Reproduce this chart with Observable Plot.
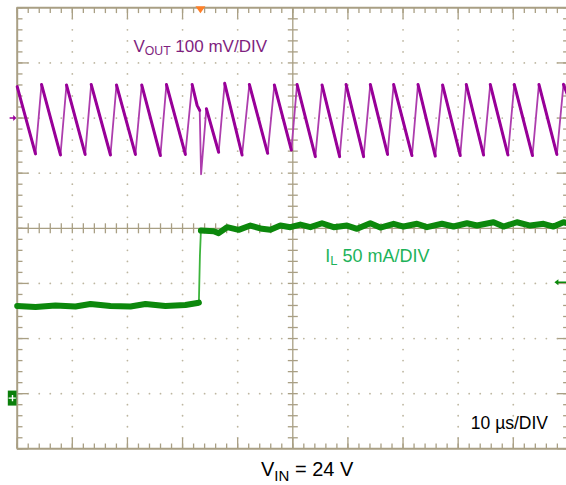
<!DOCTYPE html>
<html>
<head>
<meta charset="utf-8">
<script src="https://cdn.jsdelivr.net/npm/d3@7"></script>
<script src="https://cdn.jsdelivr.net/npm/@observablehq/plot@0.6"></script>
<style>
  body { margin: 0; background: #fff; }
  #wrap { position: relative; width: 566px; height: 485px; overflow: hidden; font-family: "Liberation Sans", Arial, Helvetica, sans-serif; }
  #chart svg { display: block; }
  #cap { position: absolute; left: 261px; top: 459px; font-size: 20px; line-height: 20px; color: #000; white-space: nowrap; }
  #cap .sub { font-size: 15px; position: relative; top: 5px; }
</style>
</head>
<body>
<div id="wrap">
  <div id="chart"></div>
  <div id="cap">V<span class="sub">IN</span> = 24 V</div>
</div>
<script>
// ---- data read from the scope capture ----
// time in µs (10 µs/DIV, 10 divisions)
const voutTime = [0, 3.32, 4.41, 7.85, 8.94, 12.33, 13.42, 16.92, 18.01, 21.45,
  22.59, 25.98, 27.07, 30.51, 31.73, 32.64, 33.11, 33.36, 34.32, 36.55,
  37.64, 40.80, 42.12, 45.44, 46.65, 49.74, 50.77, 54.09, 55.30, 58.50,
  59.66, 62.85, 64.06, 67.20, 68.29, 71.62, 72.71, 75.85, 77.17, 80.38,
  81.47, 84.61, 85.82, 89.03, 90.18, 93.49, 94.65, 97.91, 99.11, 100];
// VOUT ripple in mV (AC, relative to channel 1 reference)
const voutMv = [57, -65, 61, -67, 60, -66, 61, -67, 60, -66,
  60, -68, 61, -66, 61, 23, 14, -102, 17, -62,
  63, -67, 61, -64, 60, -58, 61, -70, 60, -70,
  61, -70, 61, -66, 61, -68, 61, -69, 60, -68,
  61, -67, 61, -67, 61, -68, 61, -66, 61, 38];

const ilTime = [0, 3.32, 6.94, 10.57, 13.29, 16.92, 20.55, 23.27, 26.89, 30.51,
  32.69, 32.96, 33.15, 33.33, 35.65, 36.55, 38.08, 40.18, 42.30, 44.42,
  45.93, 47.74, 49.56, 51.37, 53.18, 55.30, 57.41, 59.84, 61.65, 64.06,
  65.88, 68.29, 70.10, 72.53, 74.34, 77.06, 79.17, 81.60, 83.41, 86.42,
  88.23, 90.66, 93.07, 95.49, 97.30, 99.11, 100];
// inductor current in mA
const ilMa = [83.5, 82.6, 84.0, 83.1, 85.3, 83.5, 83.1, 85.3, 83.5, 84.4,
  86.2, 86.6, 129.3, 152.0, 151.4, 149.6, 155.0, 152.6, 156.5, 153.5,
  152.6, 156.5, 155.0, 157.4, 155.0, 158.6, 155.0, 156.5, 153.5, 158.6,
  154.7, 158.1, 155.6, 158.1, 155.0, 158.1, 155.6, 158.6, 156.5, 159.5,
  155.6, 159.5, 156.5, 158.1, 155.6, 159.5, 158.3];

// scope settings
const timePerDiv = 10;     // µs/DIV
const voutPerDiv = 100;    // mV/DIV
const ilPerDiv = 50;       // mA/DIV
const ch1Offset = 2;       // divisions
const ch2Offset = -3.08;   // divisions
const triggerTime = 33.24; // µs
const triggerLevel = 105;  // mA (channel 2)
const labelText = ["V_{OUT} 100 mV/DIV", "I_{L} 50 mA/DIV", "10 µs/DIV"];

// ---- derived ----
const tMax = timePerDiv * 10;
const xMinor = d3.range(0, tMax + 1e-9, timePerDiv / 5);
const xMajor = d3.range(0, tMax + 1e-9, timePerDiv);
const yMinor = d3.range(-20, 21).map(i => i / 5);
const yMajor = d3.range(-4, 5);
const isMajorX = x => Math.abs(x / timePerDiv - Math.round(x / timePerDiv)) < 1e-6;

const gridDots = [];
for (const x of xMajor) if (x > 0 && x < tMax && x !== tMax / 2)
  for (const y of yMinor) if (y > -4 && y < 4 && Math.abs(y) > 1e-6) gridDots.push({x, y});
for (const y of yMajor) if (y > -4 && y < 4 && y !== 0)
  for (const x of xMinor) if (x > 0 && x < tMax && !isMajorX(x)) gridDots.push({x, y});

function runs(ts, vs, ok) {
  const rows = []; let run = 0, open = false;
  for (let i = 0; i < ts.length - 1; i++) {
    const s = (vs[i + 1] - vs[i]) / (ts[i + 1] - ts[i]);
    if (ok(s)) {
      if (!open) { rows.push({t: ts[i], v: vs[i], run}); open = true; }
      rows.push({t: ts[i + 1], v: vs[i + 1], run});
    } else if (open) { open = false; run++; }
  }
  return rows;
}
const vout = voutTime.map((t, i) => ({t, v: voutMv[i]}));
const voutFall = runs(voutTime, voutMv, s => s < 0 && -s < 80);
const il = ilTime.map((t, i) => ({t, v: ilMa[i]}));
const ilSlow = runs(ilTime, ilMa, s => Math.abs(s) < 30);
const vY = d => ch1Offset + d.v / voutPerDiv;
const iY = d => ch2Offset + d.v / ilPerDiv;

// ---- symbols ----
const sym = f => ({draw: f});
const vTick = (a, b) => sym(c => { c.moveTo(0, a); c.lineTo(0, b); });
const hTick = (a, b) => sym(c => { c.moveTo(a, 0); c.lineTo(b, 0); });
const ch1Arrow = sym(c => {
  c.moveTo(-7.6, -0.8); c.lineTo(-4, -0.8); c.lineTo(-4, -3); c.lineTo(-0.8, 0);
  c.lineTo(-4, 3); c.lineTo(-4, 0.8); c.lineTo(-7.6, 0.8); c.closePath();
});
const ch2Box = sym(c => { c.rect(-9.4, -7.5, 8.7, 15); });
const ch2Mark = sym(c => { c.rect(-8.6, -0.7, 7.2, 1.4); c.rect(-5.4, -3.2, 1.4, 6.4); });
const trigArrow = sym(c => {
  c.moveTo(-14, 0); c.lineTo(-10, -3); c.lineTo(-10, -0.8); c.lineTo(-1, -0.8);
  c.lineTo(-1, 0.8); c.lineTo(-10, 0.8); c.lineTo(-10, 3); c.closePath();
});
const trigTri = sym(c => { c.moveTo(-5, -1.5); c.lineTo(5, -1.5); c.lineTo(0, 5.5); c.closePath(); });

const gridColor = "#a99f84";
const dotColor = "#bdb6a0";
const font = "Liberation Sans, Arial, Helvetica, sans-serif";
const tickOpts = {stroke: gridColor, fill: "none", strokeWidth: 1.3};

const plot = Plot.plot({
  width: 566,
  height: 452,
  marginLeft: 17, marginRight: 0, marginTop: 7, marginBottom: 4,
  x: {domain: [0, tMax], range: [16.7, 567.9], axis: null},
  y: {domain: [-4, 4], range: [448.3, 7.3], axis: null},
  marks: [
    Plot.dot(gridDots, {x: "x", y: "y", r: 0.9, fill: dotColor, stroke: "none"}),
    // center cross
    Plot.ruleX([tMax / 2], {y1: -4, y2: 4, stroke: gridColor, strokeWidth: 1.3}),
    Plot.ruleY([0], {x1: 0, x2: tMax, stroke: gridColor, strokeWidth: 1.3}),
    Plot.dot(xMinor.filter(x => x > 0 && x < tMax), {x: d => d, y: 0, symbol: vTick(-5, 5), ...tickOpts}),
    Plot.dot(yMinor.filter(y => y > -4 && y < 4), {x: tMax / 2, y: d => d, symbol: hTick(-5, 5), ...tickOpts}),
    // border ticks
    Plot.dot(xMinor, {x: d => d, y: 4, symbol: vTick(0, 5.3), ...tickOpts}),
    Plot.dot(xMajor, {x: d => d, y: 4, symbol: vTick(0, 11), ...tickOpts}),
    Plot.dot(xMinor, {x: d => d, y: -4, symbol: vTick(0, -5.3), ...tickOpts}),
    Plot.dot(xMajor, {x: d => d, y: -4, symbol: vTick(0, -11), ...tickOpts}),
    Plot.dot(yMinor, {x: 0, y: d => d, symbol: hTick(0, 5.3), ...tickOpts}),
    Plot.dot(yMajor, {x: 0, y: d => d, symbol: hTick(0, 11), ...tickOpts}),
    Plot.dot(yMinor, {x: tMax, y: d => d, symbol: hTick(0, -5.3), ...tickOpts}),
    Plot.dot(yMajor, {x: tMax, y: d => d, symbol: hTick(0, -11), ...tickOpts}),
    // frame
    Plot.ruleX([0, tMax], {y1: -4, y2: 4, stroke: gridColor, strokeWidth: 2}),
    Plot.ruleY([-4, 4], {x1: 0, x2: tMax, stroke: gridColor, strokeWidth: 2}),
    // traces
    Plot.line(vout, {x: "t", y: vY, stroke: "#ad3dad", strokeWidth: 1.8}),
    Plot.line(voutFall, {x: "t", y: vY, z: "run", stroke: "#980098", strokeWidth: 3, strokeLinejoin: "round"}),
    Plot.line(il, {x: "t", y: iY, stroke: "#3cb43c", strokeWidth: 1.8}),
    Plot.line(ilSlow, {x: "t", y: iY, z: "run", stroke: "#0c880c", strokeWidth: 6, strokeLinejoin: "round"}),
    // channel / trigger markers
    Plot.dot([ch1Offset], {x: 0, y: d => d, symbol: ch1Arrow, fill: "#990099", stroke: "none"}),
    Plot.dot([ch2Offset], {x: 0, y: d => d, symbol: ch2Box, fill: "#0b7f0b", stroke: "none"}),
    Plot.dot([ch2Offset], {x: 0, y: d => d, symbol: ch2Mark, fill: "#ffffff", stroke: "none"}),
    Plot.dot([triggerLevel], {x: tMax, y: d => ch2Offset + d / ilPerDiv, symbol: trigArrow, fill: "#0b8a0b", stroke: "none"}),
    Plot.dot([triggerTime], {x: d => d, y: 4, symbol: trigTri, fill: "#ff7f27", stroke: "none"}),
    // labels
    Plot.text([labelText[0]], {x: 21.09, y: 3.195, text: d => d, textAnchor: "start", lineAnchor: "bottom",
      fontSize: 17, fontFamily: font, fill: "#7f1f80"}),
    Plot.text([labelText[1]], {x: 55.9, y: -0.615, text: d => d, textAnchor: "start", lineAnchor: "bottom",
      fontSize: 18, fontFamily: font, fill: "#1db35a"}),
    Plot.text([labelText[2]], {x: 82.3, y: -3.637, text: d => d, textAnchor: "start", lineAnchor: "bottom",
      fontSize: 17.5, fontFamily: font, fill: "#000000"})
  ]
});

// subscripts: rewrite "A_{B}C" as tspans
d3.select(plot).selectAll("text").each(function () {
  const m = /^(.*?)_\{(.*?)\}(.*)$/.exec(this.textContent);
  if (!m) return;
  const s = d3.select(this).text(null);
  s.append("tspan").text(m[1]);
  s.append("tspan").attr("font-size", "0.72em").attr("dy", 2.5).text(m[2]);
  s.append("tspan").attr("dy", -2.5).text(m[3]);
});

document.getElementById("chart").appendChild(plot);
</script>
</body>
</html>
